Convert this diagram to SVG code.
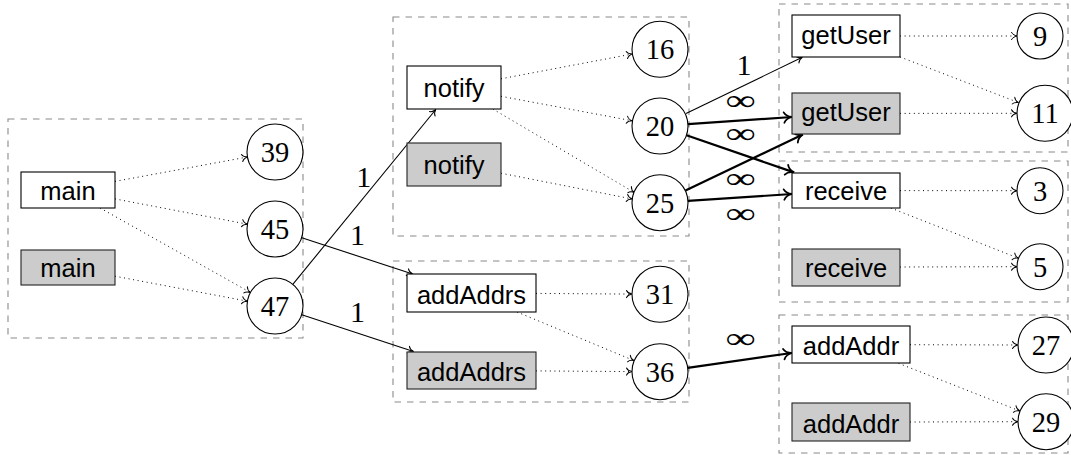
<svg xmlns="http://www.w3.org/2000/svg" width="1071" height="455" viewBox="0 0 1071 455">
<style>
.cl{fill:none;stroke:#8a8a8a;stroke-width:1.1;stroke-dasharray:6.5 6}
.bx{fill:#fff;stroke:#000;stroke-width:1.1}
.bg{fill:#cccccc;stroke:#222;stroke-width:1.1}
.ci{fill:#fff;stroke:#000;stroke-width:1.1}
.lbl{font-family:"Liberation Sans",Arial,sans-serif;font-size:25.5px;text-anchor:middle;fill:#000}
.num{font-family:"Liberation Serif","Times New Roman",serif;font-size:28.5px;text-anchor:middle;fill:#000}
.el{font-family:"Liberation Serif","Times New Roman",serif;font-size:30px;text-anchor:middle;fill:#000}
.inf{font-family:"Liberation Serif","Times New Roman",serif;font-size:29px;text-anchor:middle;fill:#000}
.dt{fill:none;stroke:#000;stroke-width:1;stroke-dasharray:1 3.6;marker-end:url(#ah)}
.th{fill:none;stroke:#000;stroke-width:1.1;marker-end:url(#ah)}
.tk{fill:none;stroke:#000;stroke-width:2.2;marker-end:url(#ahk)}
</style>
<defs>
<marker id="ah" markerUnits="userSpaceOnUse" viewBox="-7 -5 8 10" refX="0" refY="0" markerWidth="8" markerHeight="10" orient="auto" overflow="visible">
<path d="M-5.5,-3.6 C-4.6,-1.6 -1.6,-0.3 0,0 C-1.6,0.3 -4.6,1.6 -5.5,3.6" fill="none" stroke="#000" stroke-width="1" stroke-linecap="round"/>
</marker>
<marker id="ahk" markerUnits="userSpaceOnUse" viewBox="-10 -7 11 14" refX="0" refY="0" markerWidth="11" markerHeight="14" orient="auto" overflow="visible">
<path d="M-8,-5.2 C-6.6,-2.3 -2.3,-0.4 0,0 C-2.3,0.4 -6.6,2.3 -8,5.2" fill="none" stroke="#000" stroke-width="1.8" stroke-linecap="round"/>
</marker>
</defs>

<g id="clusters">
<rect id="cluster-main" class="cl" x="8" y="119" width="295" height="219"/>
<rect id="cluster-notify" class="cl" x="393" y="17" width="296" height="219"/>
<rect id="cluster-addAddrs" class="cl" x="393" y="261" width="296" height="141"/>
<rect id="cluster-getUser" class="cl" x="779" y="4" width="289" height="148"/>
<rect id="cluster-receive" class="cl" x="779" y="161" width="289" height="141"/>
<rect id="cluster-addAddr" class="cl" x="779" y="315" width="289" height="138"/>
</g>

<g id="connectors">
<path class="dt" d="M115,181.4 L247.5,157"/>
<path class="dt" d="M115,198.9 L247.5,224.2"/>
<path class="dt" d="M100.1,208 L250.4,292.5"/>
<path class="dt" d="M115,276.2 L247.5,301.2"/>
<path class="dt" d="M501,78.8 L632.3,54"/>
<path class="dt" d="M501,96.3 L632.3,120.8"/>
<path class="dt" d="M492.8,109 L634.3,192.5"/>
<path class="dt" d="M501,173.2 L632.3,199"/>
<path class="dt" d="M900,36 L1017,36"/>
<path class="dt" d="M900.1,57 L1018.6,102.6"/>
<path class="dt" d="M900,113.4 L1017,113.3"/>
<path class="dt" d="M900,190.6 L1017,190.7"/>
<path class="dt" d="M890.8,208 L1018.6,258.3"/>
<path class="dt" d="M900,267 L1017,266.7"/>
<path class="dt" d="M536,293.4 L632,294.1"/>
<path class="dt" d="M517,312 L634,360.6"/>
<path class="dt" d="M536,370.9 L632,371.6"/>
<path class="dt" d="M910,344.7 L1018,345"/>
<path class="dt" d="M898.5,363.3 L1019.8,411"/>
<path class="dt" d="M910,422 L1018,421.7"/>
<path class="th" d="M292.8,284.3 L435.8,109.5"/>
<path class="th" d="M301.8,237.7 L412.6,274"/>
<path class="th" d="M301.8,314.7 L413.5,351.5"/>
<path class="th" d="M686,113.4 L802.3,57.3"/>
<path class="tk" d="M687.9,124.1 L792,117"/>
<path class="tk" d="M686.5,135.2 L794,172.4"/>
<path class="tk" d="M685.5,190.6 L802.8,134.4"/>
<path class="tk" d="M687.9,200.9 L792,194"/>
<path class="tk" d="M687.7,367.8 L791.7,353"/>
<text class="el" x="363.7" y="186.7">1</text>
<text class="el" x="357.5" y="245">1</text>
<text class="el" x="357.5" y="321.7">1</text>
<text class="el" x="744" y="75">1</text>
<text class="inf" x="740.5" y="109.5" textLength="30" lengthAdjust="spacingAndGlyphs">∞</text>
<text class="inf" x="740.5" y="142.8" textLength="30" lengthAdjust="spacingAndGlyphs">∞</text>
<text class="inf" x="740.5" y="187.8" textLength="30" lengthAdjust="spacingAndGlyphs">∞</text>
<text class="inf" x="740.5" y="222.8" textLength="30" lengthAdjust="spacingAndGlyphs">∞</text>
<text class="inf" x="740.5" y="347.8" textLength="30" lengthAdjust="spacingAndGlyphs">∞</text>
</g>

<g id="n-main"><rect class="bx" x="21" y="172" width="94" height="36"/><text class="lbl" x="68" y="200">main</text></g>
<g id="n-main-g"><rect class="bg" x="21" y="250" width="94" height="35"/><text class="lbl" x="68" y="277">main</text></g>
<g id="c39"><circle class="ci" cx="275" cy="152" r="28"/><text class="num" x="275" y="162">39</text></g>
<g id="c45"><circle class="ci" cx="275" cy="229" r="28"/><text class="num" x="275" y="239">45</text></g>
<g id="c47"><circle class="ci" cx="275" cy="306" r="28"/><text class="num" x="275" y="316">47</text></g>

<g id="n-notify"><rect class="bx" x="407" y="66" width="94" height="43"/><text class="lbl" x="454" y="96.5">notify</text></g>
<g id="n-notify-g"><rect class="bg" x="407" y="143" width="94" height="43"/><text class="lbl" x="454" y="173.5">notify</text></g>
<g id="c16"><circle class="ci" cx="660" cy="49.3" r="28"/><text class="num" x="660" y="59.3">16</text></g>
<g id="c20"><circle class="ci" cx="660" cy="126" r="28"/><text class="num" x="660" y="136">20</text></g>
<g id="c25"><circle class="ci" cx="660" cy="202.7" r="28"/><text class="num" x="660" y="212.7">25</text></g>

<g id="n-addAddrs"><rect class="bx" x="407" y="274" width="129" height="38"/><text class="lbl" x="471.5" y="304">addAddrs</text></g>
<g id="n-addAddrs-g"><rect class="bg" x="407" y="352" width="129" height="37"/><text class="lbl" x="471.5" y="380.5">addAddrs</text></g>
<g id="c31"><circle class="ci" cx="660" cy="294.3" r="28"/><text class="num" x="660" y="304.3">31</text></g>
<g id="c36"><circle class="ci" cx="660" cy="371.7" r="28"/><text class="num" x="660" y="381.7">36</text></g>

<g id="n-getUser"><rect class="bx" x="792" y="15" width="108" height="42"/><text class="lbl" x="846" y="43.5">getUser</text></g>
<g id="n-getUser-g"><rect class="bg" x="792" y="93" width="108" height="41"/><text class="lbl" x="846" y="121">getUser</text></g>
<g id="c9"><circle class="ci" cx="1040" cy="36" r="23"/><text class="num" x="1040" y="46">9</text></g>
<g id="c11"><circle class="ci" cx="1045" cy="113.3" r="28"/><text class="num" x="1045" y="123.3">11</text></g>

<g id="n-receive"><rect class="bx" x="792" y="173" width="108" height="35"/><text class="lbl" x="846" y="199.5">receive</text></g>
<g id="n-receive-g"><rect class="bg" x="792" y="249" width="108" height="37"/><text class="lbl" x="846" y="276.5">receive</text></g>
<g id="c3"><circle class="ci" cx="1040" cy="190.7" r="23"/><text class="num" x="1040" y="200.7">3</text></g>
<g id="c5"><circle class="ci" cx="1040" cy="266.7" r="23"/><text class="num" x="1040" y="276.7">5</text></g>

<g id="n-addAddr"><rect class="bx" x="792" y="326" width="118" height="37"/><text class="lbl" x="851" y="355">addAddr</text></g>
<g id="n-addAddr-g"><rect class="bg" x="792" y="403" width="118" height="38"/><text class="lbl" x="851" y="432.5">addAddr</text></g>
<g id="c27"><circle class="ci" cx="1046" cy="345" r="28"/><text class="num" x="1046" y="355">27</text></g>
<g id="c29"><circle class="ci" cx="1046" cy="421.7" r="28"/><text class="num" x="1046" y="431.7">29</text></g>
</svg>
